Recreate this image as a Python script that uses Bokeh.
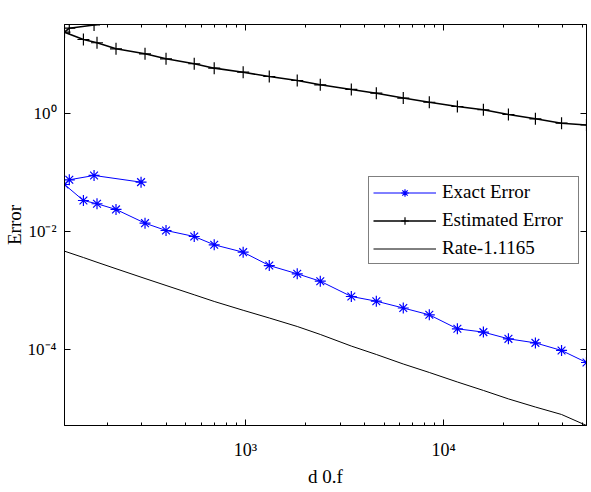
from bokeh.plotting import figure
from bokeh.models import LogAxis, FixedTicker, Legend, LegendItem, Range1d
from bokeh.embed import file_html
from bokeh.resources import INLINE

# ---- data ----
dof = [297, 172, 129, 122, 152, 178, 222, 311, 397, 551, 695, 973, 1318, 1824,
       2384, 3420, 4573, 6255, 8465, 11730, 15870, 21230, 29050, 39360, 52600]
exact_err = [0.0689, 0.0895, 0.0756, 0.0629, 0.0336, 0.0296, 0.0237, 0.01384,
             0.0104, 0.00822, 0.00594, 0.00445, 0.00264, 0.00191, 0.00143,
             0.000786, 0.000654, 0.000501, 0.000384, 0.000222, 0.000195,
             0.000150, 0.000128, 0.0000951, 0.0000594]
est_err = [48.7, 32.3, 28.5, 24.4, 18.3, 16.1, 12.7, 10.46, 8.60, 7.08, 5.96,
           5.09, 4.30, 3.68, 3.11, 2.59, 2.24, 1.85, 1.57, 1.33, 1.17, 0.973,
           0.822, 0.692, 0.645]
rate_dof = [122, 152, 178, 222, 311, 397, 551, 695, 973, 1318, 1824, 2384,
            3420, 4573, 6255, 8465, 11730, 15870, 21230, 29050, 39360, 52600]
rate_err = [4.63e-3, 3.61e-3, 3.00e-3, 2.33e-3, 1.59e-3, 1.21e-3, 8.40e-4,
            6.47e-4, 4.58e-4, 3.39e-4, 2.43e-4, 1.78e-4, 1.13e-4, 8.13e-5,
            5.60e-5, 4.02e-5, 2.77e-5, 1.99e-5, 1.43e-5, 1.04e-5, 7.77e-6,
            5.05e-6]

x_major = [1e3, 1e4]
x_minor = [m * 10 ** e for e in (2, 3, 4) for m in range(2, 10)]
x_labels = {1e3: "10³", 1e4: "10⁴"}
y_major = [1e-4, 1e-2, 1.0]
y_labels = {1e-4: "10⁻⁴", 1e-2: "10⁻²", 1.0: "10⁰"}

FONT = "Liberation Serif"

p = figure(width=591, height=492, x_axis_type="log", y_axis_type="log",
           x_range=Range1d(122, 52600), y_range=Range1d(5.05e-6, 32.9),
           output_backend="svg", toolbar_location=None,
           min_border_left=64, min_border_right=5, min_border_top=24,
           min_border_bottom=67)
p.background_fill_color = "white"
p.border_fill_color = "white"
p.outline_line_color = "black"
p.outline_line_width = 1
p.xgrid.visible = False
p.ygrid.visible = False

xt = FixedTicker(ticks=x_major, minor_ticks=x_minor)
yt = FixedTicker(ticks=y_major, minor_ticks=[])

def style(ax, minor):
    ax.axis_line_color = "black"
    ax.major_tick_line_color = "black"
    ax.minor_tick_line_color = "black"
    ax.major_tick_in = 6
    ax.major_tick_out = 0
    ax.minor_tick_in = 3 if minor else 0
    ax.minor_tick_out = 0
    ax.major_label_text_font = FONT
    ax.major_label_text_font_size = "18px"
    ax.major_label_text_color = "black"
    ax.axis_label_text_font = FONT
    ax.axis_label_text_font_size = "19px"
    ax.axis_label_text_font_style = "normal"
    ax.axis_label_text_color = "black"

p.xaxis.ticker = xt
p.yaxis.ticker = yt
style(p.xaxis[0], True)
style(p.yaxis[0], False)
p.yaxis.major_label_text_font_size = "17px"
p.xaxis.major_label_overrides = x_labels
p.yaxis.major_label_overrides = y_labels
p.xaxis.axis_label = "d 0.f"
p.yaxis.axis_label = "Error"
p.xaxis.major_label_standoff = 14
p.xaxis.axis_label_standoff = 3
p.yaxis.major_label_standoff = 8
p.yaxis.axis_label_standoff = 0

top = LogAxis(ticker=xt)
style(top, True)
top.major_label_text_font_size = "1px"
top.major_label_text_alpha = 0
top.major_label_standoff = 0
p.add_layout(top, "above")

right = LogAxis(ticker=yt)
style(right, False)
right.major_label_text_font_size = "1px"
right.major_label_text_alpha = 0
right.major_label_standoff = 0
p.add_layout(right, "right")

# ---- glyphs ----
rate_line = p.line(rate_dof, rate_err, line_color="black", line_width=1)
est_line = p.line(dof, est_err, line_color="black", line_width=1.6)
est_mark = p.scatter(dof, est_err, marker="cross", size=12, line_color="black",
                     line_width=1.2)
ex_line = p.line(dof, exact_err, line_color="#0000ff", line_width=1)
ex_mark = p.scatter(dof, exact_err, marker="asterisk", size=11,
                    line_color="#0000ff", line_width=1.2)

legend = Legend(items=[
    LegendItem(label="Exact Error", renderers=[ex_line, ex_mark]),
    LegendItem(label="Estimated Error", renderers=[est_line, est_mark]),
    LegendItem(label="Rate-1.1165", renderers=[rate_line]),
], location=(304, 161))
legend.label_text_font = FONT
legend.label_text_font_size = "19px"
legend.label_text_color = "black"
legend.border_line_color = "black"
legend.border_line_width = 1
legend.background_fill_color = "white"
legend.background_fill_alpha = 1
legend.padding = 4
legend.margin = 0
legend.spacing = 6
legend.glyph_width = 63
legend.glyph_height = 19
legend.label_height = 19
legend.label_standoff = 6
legend.label_width = 132
p.add_layout(legend, "center")

open("out.html", "w").write(file_html(p, INLINE))
